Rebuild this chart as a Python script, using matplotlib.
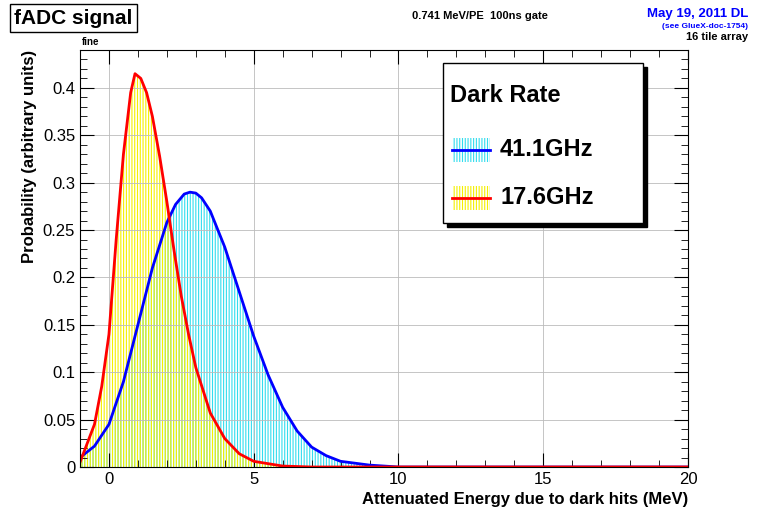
import numpy as np
import matplotlib.pyplot as plt
from matplotlib.patches import Rectangle
from matplotlib.lines import Line2D

red_x = [-1, -0.5, -0.25, 0, 0.25, 0.5, 0.75, 0.9, 1.1, 1.3, 1.5, 1.75, 2, 2.25, 2.5, 2.75, 3, 3.5, 4, 4.5, 5, 6, 7, 20]
red_y = [0.005, 0.045, 0.085, 0.14, 0.24, 0.33, 0.395, 0.415, 0.41, 0.395, 0.37, 0.328, 0.28, 0.228, 0.18, 0.14, 0.105, 0.057, 0.03, 0.014, 0.006, 0.001, 0, 0]
blue_x = [-1, -0.5, 0, 0.5, 1, 1.5, 2, 2.3, 2.6, 2.8, 3.0, 3.2, 3.5, 4, 4.5, 5, 5.5, 6, 6.5, 7, 7.5, 8, 9, 10, 20]
blue_y = [0.01, 0.022, 0.045, 0.09, 0.15, 0.21, 0.258, 0.277, 0.288, 0.29, 0.289, 0.284, 0.27, 0.232, 0.185, 0.138, 0.097, 0.063, 0.038, 0.021, 0.012, 0.006, 0.002, 0, 0]
labels = ["41.1GHz", "17.6GHz"]

plt.rcParams['font.family'] = ['Liberation Sans', 'DejaVu Sans']
plt.rcParams['hatch.linewidth'] = 0.8
fig = plt.figure(figsize=(7.57, 5.17), dpi=100)
ax = fig.add_axes([80/757, 50/517, 608/757, 417/517])
ax.fill_between(blue_x, blue_y, color='none', edgecolor='#33ddee', hatch='||||||', linewidth=0)
ax.fill_between(red_x, red_y, color='none', edgecolor='#f5f000', hatch='||||||', linewidth=0)
ax.plot(blue_x, blue_y, color='#0000ff', lw=2)
ax.plot(red_x, red_y, color='#ff0000', lw=2)
ax.set_xlim(-1, 20)
ax.set_ylim(0, 0.44)
ax.set_xticks([0, 5, 10, 15, 20])
ax.set_xticks(np.arange(-1, 20.1, 1), minor=True)
ax.set_yticks(np.arange(0, 0.41, 0.05))
ax.set_yticklabels(['0', '0.05', '0.1', '0.15', '0.2', '0.25', '0.3', '0.35', '0.4'])
ax.set_yticks(np.arange(0, 0.44, 0.01), minor=True)
ax.tick_params(direction='in', top=True, right=True, which='both', labelsize=12)
ax.tick_params(which='major', length=10)
ax.tick_params(which='minor', length=5)
ax.grid(True, color='#bbbbbb', lw=0.6)
ax.set_xlabel("Attenuated Energy due to dark hits (MeV)", fontsize=12, fontweight='bold', loc='right')
ax.set_ylabel("Probability (arbitrary units)", fontsize=12, fontweight='bold', loc='top')

# legend box with shadow
fig.patches.append(Rectangle((447/757, (517-227)/517), 200/757, 160/517, transform=fig.transFigure, color='black'))
fig.patches.append(Rectangle((443/757, (517-223)/517), 200/757, 160/517, transform=fig.transFigure, facecolor='white', edgecolor='black', lw=1))
fig.text(450/757, 1-95/517, "Dark Rate", fontsize=17, fontweight='bold', va='center')
for i, (lab, col, fc) in enumerate(zip(labels, ['#0000ff', '#ff0000'], ['#33ddee', '#f5f000'])):
    yc = 1 - (150 + 48*i)/517
    fig.patches.append(Rectangle((452/757, yc-12/517), 38/757, 24/517, transform=fig.transFigure,
                                 facecolor='none', edgecolor=fc, hatch='||||||', lw=0))
    fig.lines.append(Line2D([452/757, 490/757], [yc, yc], transform=fig.transFigure, color=col, lw=2))
    fig.text(500/757, yc, lab, fontsize=17, fontweight='bold', va='center')

fig.text(14/757, 1-18/517, "fADC signal", fontsize=15, fontweight='bold', va='center',
         bbox=dict(boxstyle='square,pad=0.2', fc='white', ec='black'))
fig.text(480/757, 1-16/517, "0.741 MeV/PE  100ns gate", fontsize=8, fontweight='bold', ha='center', va='center')
fig.text(748/757, 1-14/517, "May 19, 2011 DL", fontsize=9.5, fontweight='bold', color='#0000ff', ha='right', va='center')
fig.text(748/757, 1-26/517, "(see GlueX-doc-1754)", fontsize=6, fontweight='bold', color='#0000ff', ha='right', va='center')
fig.text(748/757, 1-37/517, "16 tile array", fontsize=8, fontweight='bold', ha='right', va='center')
fig.text(82/757, 1-42/517, "fine", fontsize=7, fontweight='bold', va='center')
fig.savefig("out.png")
